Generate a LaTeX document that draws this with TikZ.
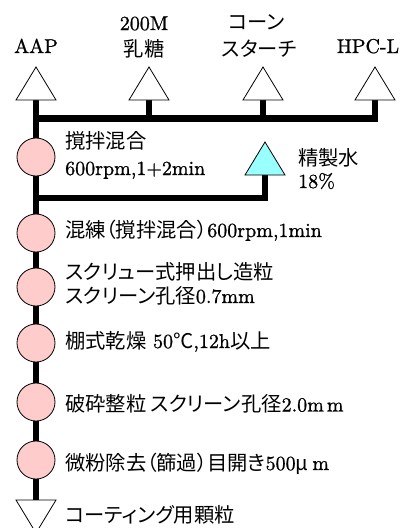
\documentclass[tikz,border=0pt]{standalone}
\usepackage{fontspec}
\setmainfont{lmroman10-regular.otf}[FakeBold=1]
\newfontfamily\jp[RawFeature=+palt]{Noto Sans CJK JP}
\definecolor{procpink}{HTML}{FFCCCC}
\definecolor{watercyan}{HTML}{99FFFF}
\newcommand\J[1]{{\jp\fontsize{20.3}{22}\selectfont #1}}
\begin{document}
\begin{tikzpicture}[x=1pt,y=-1pt,
  flow/.style={line width=6.5pt,line join=miter},
  proc/.style={circle,draw,fill=procpink,minimum size=38pt,inner sep=0pt,line width=0.8pt},
  tri/.style={draw,line width=0.8pt,fill=white,line join=miter},
  lbl/.style={anchor=base west,inner sep=0pt,font=\fontsize{20}{24}\selectfont},
  toplbl/.style={anchor=base,inner sep=0pt,font=\fontsize{20}{24}\selectfont},
  uptri/.pic={\draw[tri,#1] (-20,0) -- (0,-33) -- (20,0) -- cycle;},
  uptri/.default=fill=white]
\useasboundingbox (0,0) rectangle (406,528);
\clip (0,0) rectangle (406,528);
% coordinates
\coordinate (tA) at (36,100);
\coordinate (tB) at (149,100);
\coordinate (tC) at (263,100);
\coordinate (tH) at (375,100);
\coordinate (jA) at (36,118.5);
\coordinate (tW) at (265,175);
\coordinate (jW) at (36,198);
\coordinate (bot) at (36,500);
% flow lines
\draw[flow] (tH) |- (jA) -- (bot);
\draw[flow] (tA) -- (jA);
\draw[flow] (tB) -- (tB |- jA);
\draw[flow] (tC) -- (tC |- jA);
\draw[flow] (tW) |- (jW);
% top triangles
\pic at (tA) {uptri};
\pic at (tB) {uptri};
\pic at (tC) {uptri};
\pic at (tH) {uptri};
\pic at (tW) {uptri={fill=watercyan}};
% bottom triangle
\draw[tri] (16,500) -- (56,500) -- (36,533) -- cycle;
% process circles
\node[proc] (p1) at (36,157) {};
\node[proc] (p2) at (36,233) {};
\node[proc] (p3) at (36,287) {};
\node[proc] (p4) at (36,343) {};
\node[proc] (p5) at (36,402) {};
\node[proc] (p6) at (36,460) {};
% top labels
\node[toplbl] (lA) at (36,53) {AAP};
\node[toplbl] (lB1) at (144,30) {200M};
\node[toplbl] (lB2) at (144,56.5) {\J{乳糖}};
\node[toplbl] (lC1) at (257,29) {\J{コーン}};
\node[toplbl] (lC2) at (259,56.5) {\J{スターチ}};
\node[toplbl] (lH) at (368,53) {HPC-L};
% water label
\node[lbl] (lw1) at (298,165) {\J{精製水}};
\node[lbl] (lw2) at (298,188) {18\%};
% process labels
\node[lbl] (l1a) at (65,148.5) {\J{撹拌混合}};
\node[lbl] (l1b) at (65,175) {600rpm,1+2min};
\node[lbl] (l2) at (65,237) {\J{混練（撹拌混合）}600rpm,1min};
\node[lbl] (l3a) at (65,279) {\J{スクリュー式押出し造粒}};
\node[lbl] (l3b) at (65,303) {\J{スクリーン孔径}0.7mm};
\node[lbl] (l4) at (65,348) {\J{棚式乾燥} 50\J{℃},12h\J{以上}};
\node[lbl] (l5) at (65,411.5) {\J{破砕整粒 スクリーン孔径}2.0m\hspace{3pt}m};
\node[lbl] (l6) at (65,470) {\J{微粉除去（篩過）目開き}500\J{μ}\hspace{4pt}m};
\node[lbl] (l7) at (65,522) {\J{コーティング用顆粒}};
\end{tikzpicture}
\end{document}
